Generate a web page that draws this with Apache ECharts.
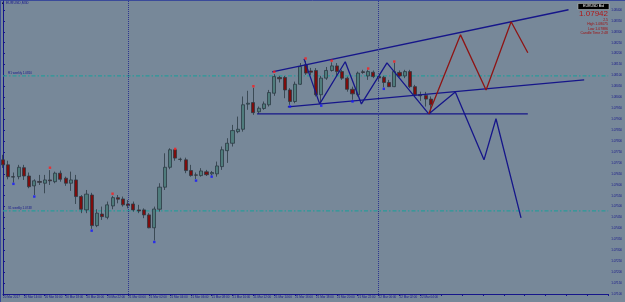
<!DOCTYPE html>
<html>
<head>
<meta charset="utf-8">
<title>EURUSD,M30</title>
<script src="https://cdn.jsdelivr.net/npm/echarts@6/dist/echarts.min.js"></script>
</head>
<body style="margin:0;background:#778899">
<div id="main" style="width:625px;height:302px"></div>
<script>
// M30 bars from 20 Mar 12:00, each [open, close, low, high]
var candles = [
  [1.07714,1.07691,1.07677,1.07737],[1.07691,1.07637,1.07625,1.07710],[1.07637,1.07635,1.07610,1.07656],
  [1.07637,1.07680,1.07625,1.07691],[1.07678,1.07640,1.07622,1.07691],[1.07640,1.07591,1.07584,1.07656],
  [1.07595,1.07618,1.07553,1.07625],[1.07615,1.07611,1.07599,1.07645],[1.07607,1.07622,1.07561,1.07645],
  [1.07622,1.07618,1.07599,1.07667],[1.07614,1.07653,1.07607,1.07660],[1.07653,1.07625,1.07614,1.07665],
  [1.07630,1.07607,1.07595,1.07637],[1.07607,1.07622,1.07572,1.07660],[1.07622,1.07546,1.07512,1.07645],
  [1.07546,1.07488,1.07470,1.07553],[1.07485,1.07557,1.07470,1.07576],[1.07553,1.07413,1.07398,1.07563],
  [1.07413,1.07470,1.07406,1.07488],[1.07466,1.07454,1.07439,1.07500],[1.07451,1.07508,1.07442,1.07523],
  [1.07503,1.07541,1.07488,1.07549],[1.07541,1.07534,1.07515,1.07553],[1.07535,1.07508,1.07500,1.07546],
  [1.07512,1.07504,1.07492,1.07530],[1.07512,1.07485,1.07477,1.07523],[1.07485,1.07480,1.07470,1.07508],
  [1.07485,1.07462,1.07447,1.07492],[1.07462,1.07403,1.07401,1.07470],[1.07403,1.07489,1.07345,1.07500],
  [1.07488,1.07589,1.07477,1.07607],[1.07589,1.07680,1.07576,1.07744],[1.07680,1.07760,1.07671,1.07767],
  [1.07760,1.07722,1.07710,1.07762],[1.07717,1.07716,1.07706,1.07724],[1.07714,1.07665,1.07653,1.07724],
  [1.07665,1.07642,1.07637,1.07691],[1.07645,1.07644,1.07626,1.07656],[1.07642,1.07663,1.07637,1.07676],
  [1.07659,1.07646,1.07640,1.07668],[1.07650,1.07656,1.07643,1.07663],[1.07650,1.07686,1.07637,1.07706],
  [1.07683,1.07760,1.07668,1.07775],[1.07756,1.07790,1.07700,1.07813],[1.07790,1.07848,1.07775,1.07874],
  [1.07843,1.07854,1.07836,1.07912],[1.07854,1.07966,1.07843,1.08004],[1.07969,1.07973,1.07943,1.08030],
  [1.07976,1.07930,1.07920,1.08044],[1.07934,1.07950,1.07924,1.07958],[1.07949,1.07970,1.07943,1.07981],
  [1.07966,1.08022,1.07958,1.08034],[1.08019,1.08095,1.08007,1.08106],[1.08091,1.08085,1.08068,1.08098],
  [1.08091,1.08034,1.07996,1.08098],[1.08034,1.07981,1.07966,1.08042],[1.07981,1.08060,1.07973,1.08072],
  [1.08060,1.08141,1.08057,1.08157],[1.08149,1.08111,1.08103,1.08167],[1.08121,1.08115,1.08103,1.08135],
  [1.08123,1.08012,1.08004,1.08134],[1.08012,1.08088,1.07970,1.08098],[1.08088,1.08123,1.08080,1.08139],
  [1.08123,1.08144,1.08118,1.08160],[1.08144,1.08118,1.08098,1.08157],[1.08118,1.08088,1.08080,1.08126],
  [1.08088,1.08037,1.08026,1.08095],[1.08037,1.08016,1.07989,1.08049],[1.08012,1.08111,1.08004,1.08118],
  [1.08117,1.08114,1.08108,1.08126],[1.08098,1.08118,1.08080,1.08126],[1.08115,1.08095,1.08088,1.08123],
  [1.08095,1.08089,1.08072,1.08103],[1.08092,1.08068,1.08046,1.08098],[1.08068,1.08049,1.08047,1.08080],
  [1.08049,1.08118,1.08047,1.08158],[1.08114,1.08098,1.08092,1.08123],[1.08098,1.08118,1.08088,1.08126],
  [1.08118,1.08049,1.08042,1.08126],[1.08049,1.08012,1.08004,1.08057],[1.08012,1.08007,1.07984,1.08026],
  [1.08009,1.07992,1.07958,1.08025],[1.07992,1.07966,1.07927,1.08004]
];
// fractal marks [bar, price]
var upFractals = [[9,1.07678],[21,1.07559],[33,1.07764],[48,1.08051],[52,1.08117],[58,1.08178],[63,1.08168],[70,1.08132],[75,1.08164]];
var downFractals = [[2,1.07604],[6,1.07546],[17,1.07390],[29,1.07338],[37,1.07619],[40,1.07637],[55,1.07958],[61,1.07962],[67,1.07981],[73,1.08039]];
// drawn objects [bar, price]
var channelTop = [[51.6,1.08117],[108.4,1.08401]];
var channelBottom = [[54.6,1.07956],[111.4,1.08080]];
var baseLine = [[48.7,1.07924],[100.6,1.07924]];
var wavePast = [[57.7,1.08176],[60.7,1.07970],[65.6,1.08163],[68.7,1.07970],[73.6,1.08158],[81.6,1.07924]];
var waveDown = [[81.6,1.07924],[86.7,1.08025],[92.2,1.07714],[94.5,1.07902],[99.3,1.07448]];
var waveUp = [[81.6,1.07924],[87.7,1.08286],[92.6,1.08034],[97.4,1.08346],[100.6,1.08204]];
var levels = [1.08098, 1.07480];
var levelNames = ['R1 weekly 1.0810', 'S1 weekly 1.0748'];
var daySeparators = [24, 72];
var timeLabels = ['20 Mar 2017','20 Mar 14:00','20 Mar 16:00','20 Mar 18:00','20 Mar 20:00','20 Mar 22:00',
  '21 Mar 00:00','21 Mar 02:00','21 Mar 04:00','21 Mar 06:00','21 Mar 08:00','21 Mar 10:00','21 Mar 12:00',
  '21 Mar 14:00','21 Mar 16:00','21 Mar 18:00','21 Mar 20:00','21 Mar 22:00','22 Mar 00:00','22 Mar 02:00','22 Mar 04:00'];
var bid = '1.07942';
var infoLines = ['2.5', 'High 1.08075', 'Low 1.07886', 'Candle Time 2:48'];

var navy = '#16168a';
var chart = echarts.init(document.getElementById('main'));

var lastClose = candles[candles.length - 1][1];

function lineSeries(data, color) {
  return {
    type: 'line', data: data, symbol: 'none', silent: true, z: 4,
    lineStyle: { color: color, width: 1.3 }
  };
}

// horizontal levels, each drawn across the whole time range
var levelSeries = levels.map(function (v, i) {
  return {
    type: 'line', data: [[0, v], [116, v]], symbol: 'none', silent: true, z: 1,
    lineStyle: { color: '#2a9a9a', type: [4, 2, 1.5, 2], width: 1.2 },
    markPoint: {
      symbol: 'rect', symbolSize: 0.1, silent: true,
      data: [{ coord: [0, v], label: { show: true, position: 'right', offset: [0, -3], formatter: levelNames[i], fontSize: 3, color: navy, fontFamily: 'Liberation Sans' } }]
    }
  };
});

option = {
  backgroundColor: '#778899',
  animation: false,
  grid: { left: 0.5, right: 14, top: 1, bottom: 8 },
  xAxis: {
    type: 'value', min: 0, max: 116, interval: 4,
    splitLine: { show: false },
    axisLine: { lineStyle: { color: navy, width: 1 } },
    axisTick: { show: true, length: 2, lineStyle: { color: navy } },
    axisLabel: {
      fontSize: 3, color: navy, align: 'left', margin: 2, fontFamily: 'Liberation Sans',
      formatter: function (v) { return v % 4 === 0 && timeLabels[v / 4] ? timeLabels[v / 4] : ''; }
    }
  },
  yAxis: {
    type: 'value', position: 'right', min: 1.0710, max: 1.08441, interval: 0.0005,
    splitLine: { show: false },
    axisLine: { show: true, lineStyle: { color: navy, width: 1 } },
    axisTick: { show: true, length: 2, lineStyle: { color: navy } },
    axisLabel: {
      fontSize: 3, color: navy, margin: 3, showMaxLabel: false, fontFamily: 'Liberation Sans',
      formatter: function (v) { return v.toFixed(5); }
    }
  },
  series: levelSeries.concat([
    {
      type: 'candlestick',
      data: candles.map(function (c, i) { return [i].concat(c); }),
      encode: { x: 0, y: [1, 2, 3, 4] },
      barWidth: 3.6,
      z: 3,
      itemStyle: { color: '#4f7c7c', color0: '#7e0c0c', borderColor: '#2c3a44', borderColor0: '#2c3a44', borderWidth: 0.8 },
      markLine: {
        silent: true, symbol: 'none', animation: false,
        data: daySeparators.map(function (v) {
          return { xAxis: v, lineStyle: { color: '#2c3390', type: [1, 1], width: 1 }, label: { show: false } };
        }).concat([{
          yAxis: lastClose,
          lineStyle: { opacity: 0 },
          label: { show: true, position: 'end', distance: 1, formatter: bid, fontSize: 3, color: '#fff', backgroundColor: '#0c0c86', padding: [1, 2] }
        }])
      }
    },
    lineSeries(channelTop, navy),
    lineSeries(channelBottom, navy),
    lineSeries(baseLine, navy),
    lineSeries(wavePast, navy),
    lineSeries(waveDown, navy),
    lineSeries(waveUp, '#8e1414'),
    { type: 'scatter', data: upFractals, symbol: 'rect', symbolSize: 2.4, itemStyle: { color: '#ff1a1a' }, z: 5 },
    { type: 'scatter', data: downFractals, symbol: 'rect', symbolSize: 2.4, itemStyle: { color: '#1414ff' }, z: 5 }
  ]),
  graphic: [
    { type: 'line', shape: { x1: 0, y1: 0.5, x2: 625, y2: 0.5 }, style: { stroke: '#3a4a9a', lineWidth: 1 } },
    { type: 'line', shape: { x1: 0.5, y1: 0, x2: 0.5, y2: 302 }, style: { stroke: '#3a4a9a', lineWidth: 1 } },
    { type: 'rect', shape: { x: 2, y: 2.5, width: 2, height: 1.5 }, style: { fill: '#101040' } },
    { type: 'text', left: 6, top: 1.5, style: { text: 'EURUSD,M30', fontSize: 3.5, fill: navy, fontFamily: 'Liberation Sans' } },
    { type: 'rect', shape: { x: 578, y: 3.5, width: 31, height: 6 }, style: { fill: '#000', stroke: '#ccc', lineWidth: 0.5 } },
    { type: 'text', x: 593.5, y: 4.3, style: { text: 'EURUSD Bid', fontSize: 3.5, fill: '#fff', align: 'center', fontFamily: 'Liberation Sans' } },
    { type: 'text', x: 608, y: 10, style: { text: bid, fontSize: 8, fill: '#b01818', align: 'right', fontFamily: 'Liberation Sans' } },
    { type: 'text', x: 608, y: 18, style: { text: infoLines[0], fontSize: 3.5, fill: '#a01010', align: 'right', fontFamily: 'Liberation Sans' } },
    { type: 'text', x: 608, y: 22.5, style: { text: infoLines[1], fontSize: 3.5, fill: '#a01010', align: 'right', fontFamily: 'Liberation Sans' } },
    { type: 'text', x: 608, y: 27, style: { text: infoLines[2], fontSize: 3.5, fill: '#a01010', align: 'right', fontFamily: 'Liberation Sans' } },
    { type: 'text', x: 608, y: 31.5, style: { text: infoLines[3], fontSize: 3.5, fill: '#a01010', align: 'right', fontFamily: 'Liberation Sans' } }
  ]
};
chart.setOption(option);
</script>
</body>
</html>
